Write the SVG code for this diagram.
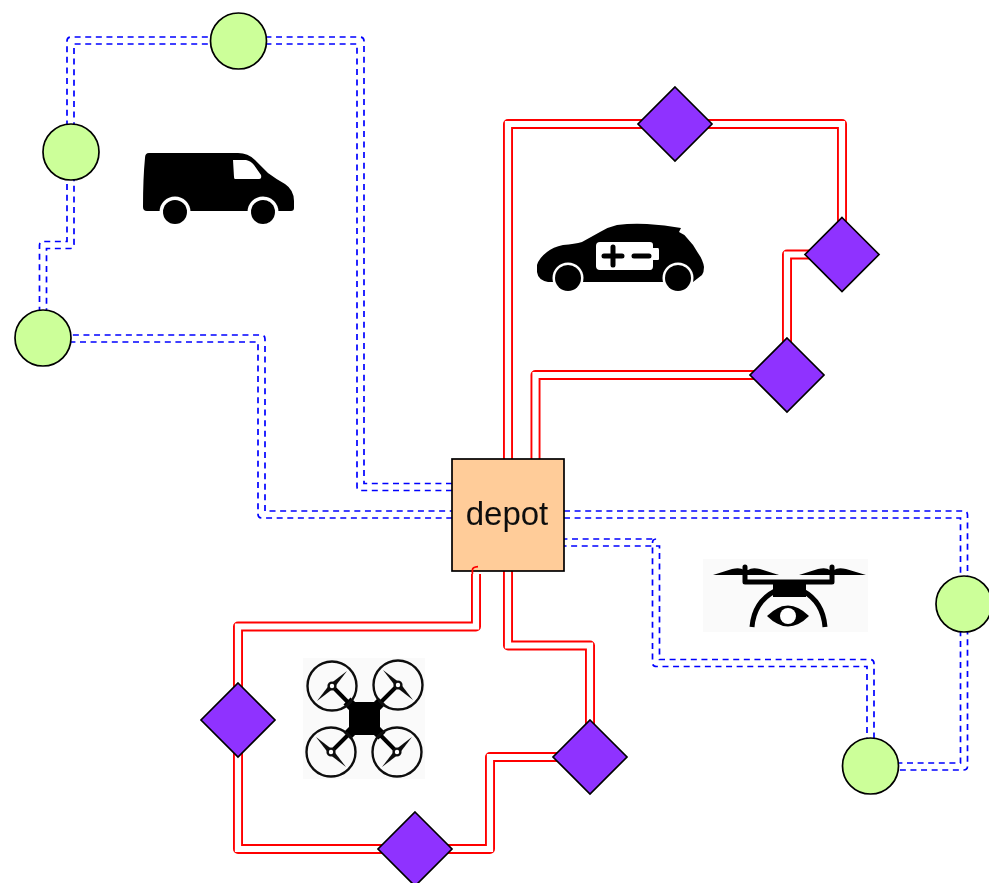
<svg xmlns="http://www.w3.org/2000/svg" width="989" height="883" viewBox="0 0 989 883">
<style>
.b{fill:none;stroke:#0000ff;stroke-width:1.7;stroke-dasharray:6 4.6}
.ro{fill:none;stroke:#ff0000;stroke-width:10;stroke-linejoin:round}
.ri{fill:none;stroke:#fff;stroke-width:6.2;stroke-linejoin:miter}
.c{fill:#ccff99;stroke:#000;stroke-width:1.7}
.d{fill:#8f33ff;stroke:#000;stroke-width:1.7}
.rotor{fill:none;stroke:#111;stroke-width:2.4}
.hub{fill:#fff;stroke:#111;stroke-width:2.4}
.arm{stroke:#000;stroke-width:4;fill:none}
.thick{stroke:#000;stroke-width:10;fill:none}
</style>
<defs>
<filter id="soft" filterUnits="userSpaceOnUse" x="0" y="0" width="989" height="883"><feGaussianBlur stdDeviation="0.5"/></filter>
<polygon id="dm" points="0,-37 37,0 0,37 -37,0"/>
<g id="rotor">
<polygon points="15,-15 2,2 -15,15 -2,-2" fill="#111"/>
<circle r="24.5" class="rotor"/>
<circle r="3.4" class="hub"/>
</g>
</defs>
<rect width="989" height="883" fill="#fff"/>
<g id="diagram" filter="url(#soft)">
<g id="connectors">
<path class="b" d="M452,483.5H364V41Q364,37 360,37H71Q67,37 67,41V241.5H43.5Q39.5,241.5 39.5,245.5V338Q39.5,342 43.5,342H258V514Q258,518 262,518H452"/>
<path class="b" d="M452,490.5H361Q357,490.5 357,486.5V44H74V244.5Q74,248.5 70,248.5H46.5V335H261Q265,335 265,339V511H452"/>
<path class="b" d="M564,511H963.5Q967.5,511 967.5,515V766Q967.5,770 963.5,770H871Q867,770 867,766V666.5H656.5Q652.5,666.5 652.5,662.5V543Q652.5,539 656.5,539H564"/>
<path class="b" d="M564,518H960.5V763H874V663.5Q874,659.5 870,659.5H659.5V546H564"/>
<path class="ro" d="M508,459V124H842V254.5H787V375H535.5V459"/>
<path class="ri" d="M508,459V124H842V254.5H787V375H535.5V459"/>
<path class="ro" d="M508,571V645.5H590V757H490V849H238V626.5H476V574"/>
<path class="ri" d="M508,571V645.5H590V757H490V849H238V626.5H476V574"/>
</g>
<g id="icon-van">
<path d="M149,153H238Q248,153 255,160L268,173Q276,179 285,184Q294,190 294,201V208Q294,211 291,211H147Q143,211 143,207Q143,178 145,158Q145,153 149,153Z" fill="#000"/>
<path d="M233,160H246Q251,161 254,165L261,175Q262,179 259,179H235Q234,179 234,177Z" fill="#fff"/>
<circle cx="175" cy="212" r="15.500" fill="#fff"/><circle cx="175" cy="212" r="12" fill="#000"/>
<circle cx="263" cy="212" r="15.500" fill="#fff"/><circle cx="263" cy="212" r="12" fill="#000"/>
</g>
<g id="icon-car">
<path d="M537,265Q539,258 547,252Q553,247 563,245Q575,244 582,242Q591,237 600,232Q608,227 617,225Q632,223 647,224Q665,225 681,228L679,232Q684,234 687,238Q694,245 698,253Q703,260 704,267Q704,272 702,275L693,282H548Q538,280 537,272Z" fill="#000"/>
<path d="M600,242H650Q653,242 653,245V248H658Q659,248 659,250V259Q659,260 658,260H653V266Q653,270 650,270H600Q596,270 596,266V246Q596,242 600,242Z" fill="#fff"/>
<path d="M604,256H622M613,247V265M634,256H649" fill="none" stroke="#000" stroke-width="5" stroke-linecap="round"/>
<circle cx="568" cy="278" r="15.500" fill="#fff"/><circle cx="568" cy="278" r="13" fill="#000"/>
<circle cx="678" cy="278" r="15.500" fill="#fff"/><circle cx="678" cy="278" r="13" fill="#000"/>
</g>
<g id="icon-eye-drone">
<rect x="703" y="559" width="165" height="73" fill="#fafafa"/>
<path d="M713,575L732,569Q740,567 744,570H748Q752,567 760,569L779,575Z" fill="#000"/>
<path d="M799,575L818,569Q826,567 830,570H834Q838,567 846,569L866,575Z" fill="#000"/>
<path d="M745,567V582H832V567" fill="none" stroke="#000" stroke-width="5" stroke-linejoin="round" stroke-linecap="round"/>
<rect x="773" y="582" width="33" height="15" fill="#000"/>
<path d="M775,591Q754,602 752,627M803,591Q823,602 825,627" fill="none" stroke="#000" stroke-width="5"/>
<path d="M767,616Q788,595 809,616Q788,637 767,616Z" fill="#000"/>
<circle cx="788" cy="616" r="8" fill="#fff"/>
</g>
<g id="icon-quad">
<rect x="303" y="658" width="122" height="121" fill="#fafafa"/>
<path class="arm" d="M332,686L397,752M398,685L331,752"/>
<path class="thick" d="M347,701L382,736M382,701L347,736"/>
<rect x="349" y="702" width="31" height="33" rx="4" fill="#000"/>
<use href="#rotor" x="332" y="686"/>
<use href="#rotor" x="398" y="685" transform="rotate(90 398 685)"/>
<use href="#rotor" x="331" y="752" transform="rotate(90 331 752)"/>
<use href="#rotor" x="397" y="752"/>
</g>
<g id="depot">
<rect x="452" y="459" width="112" height="112" fill="#ffcc99" stroke="#000" stroke-width="1.7"/>
<text x="507" y="524.500" font-family="'Liberation Sans',Arial,sans-serif" font-size="33" text-anchor="middle" fill="#111">depot</text>
</g>
<path id="connector-end" d="M472.400,574V570Q472.400,567 478,566.600" fill="none" stroke="#ff0000" stroke-width="1.700"/>
<g id="n1"><circle class="c" cx="238.500" cy="41" r="28"/></g>
<g id="n2"><circle class="c" cx="71" cy="152" r="28"/></g>
<g id="n3"><circle class="c" cx="43" cy="338" r="28"/></g>
<g id="n4"><circle class="c" cx="964" cy="604" r="28"/></g>
<g id="n5"><circle class="c" cx="870.500" cy="766" r="28"/></g>
<g id="n6"><use href="#dm" class="d" x="675" y="124"/></g>
<g id="n7"><use href="#dm" class="d" x="842" y="254.500"/></g>
<g id="n8"><use href="#dm" class="d" x="787" y="375"/></g>
<g id="n9"><use href="#dm" class="d" x="590" y="757"/></g>
<g id="n10"><use href="#dm" class="d" x="415" y="849"/></g>
<g id="n11"><use href="#dm" class="d" x="238" y="720"/></g>
</g>
</svg>
